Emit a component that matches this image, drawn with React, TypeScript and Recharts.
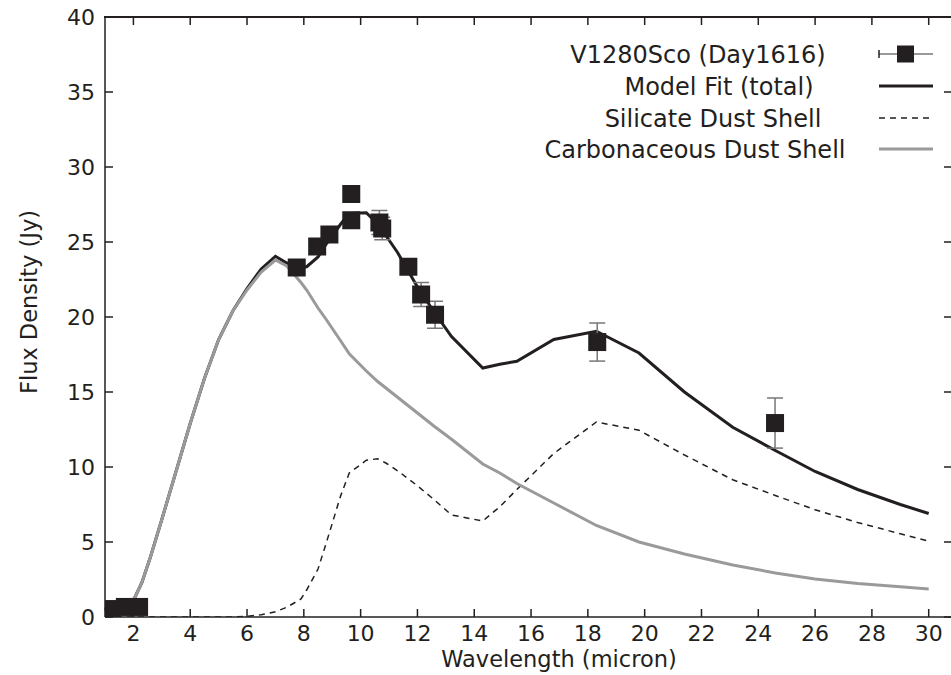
import { ComposedChart, Line, Scatter, ErrorBar, XAxis, YAxis } from 'recharts';

const INK = '#231f20';
const GREY = '#9a9a9a';
const BAR_GREY = '#777777';
const FONT = '"DejaVu Sans", "Liberation Sans", Arial, sans-serif';

// model grid, wavelength in micron
const modelWave = [1, 1.3, 1.6, 2, 2.3, 2.6, 3, 3.5, 4, 4.5, 5, 5.5, 6, 6.5, 7, 7.4, 7.9, 8.1, 8.5, 8.8, 9.3, 9.6, 10.2, 10.6, 10.9, 11.3, 12, 12.6, 13.2, 14.3, 14.9, 15.5, 16.8, 18.3, 19.8, 21.4, 23.1, 24.6, 26, 27.5, 29, 30];
const totalFit = [0, 0.1, 0.35, 1.1, 2.3, 4.0, 6.5, 9.7, 12.9, 15.9, 18.5, 20.4, 21.9, 23.2, 24.05, 23.6, 23.3, 23.35, 24.0, 24.9, 26.2, 26.9, 26.95, 26.2, 25.4, 24.3, 22.0, 20.3, 18.7, 16.6, 16.85, 17.05, 18.5, 19.05, 17.6, 15.0, 12.65, 11.1, 9.7, 8.5, 7.5, 6.9];
const silicateShell = [0, 0, 0, 0, 0, 0, 0, 0, 0, 0, 0, 0, 0.05, 0.15, 0.35, 0.65, 1.2, 1.8, 3.2, 5.0, 8.1, 9.6, 10.45, 10.55, 10.25, 9.75, 8.75, 7.8, 6.8, 6.4, 7.35, 8.5, 10.9, 13.0, 12.45, 10.8, 9.15, 8.1, 7.15, 6.3, 5.55, 5.05];
const carbonShell = [0, 0.1, 0.35, 1.1, 2.3, 4.0, 6.5, 9.7, 12.9, 15.9, 18.5, 20.4, 21.8, 23.0, 23.8, 23.4, 22.3, 21.8, 20.6, 19.8, 18.4, 17.55, 16.4, 15.7, 15.25, 14.65, 13.6, 12.7, 11.85, 10.2, 9.6, 8.9, 7.6, 6.1, 5.0, 4.2, 3.47, 2.94, 2.54, 2.24, 2.02, 1.87];

// V1280 Sco photometry, day 1616
const obsWave = [1.25, 1.7, 2.2, 7.75, 8.47, 8.9, 9.67, 9.67, 10.66, 10.76, 11.68, 12.13, 12.62, 18.33, 24.59];
const obsFlux = [0.53, 0.67, 0.67, 23.3, 24.7, 25.5, 28.2, 26.45, 26.3, 25.9, 23.35, 21.5, 20.15, 18.33, 12.93];
const obsErr = [0.05, 0.05, 0.05, 0.3, 0.4, 0.4, 0.3, 0.4, 0.8, 0.75, 0.3, 0.8, 0.9, 1.27, 1.67];

const xTicks = [2, 4, 6, 8, 10, 12, 14, 16, 18, 20, 22, 24, 26, 28, 30];
const yTicks = [0, 5, 10, 15, 20, 25, 30, 35, 40];

const seriesNames = ['V1280Sco (Day1616)', 'Model Fit (total)', 'Silicate Dust Shell', 'Carbonaceous Dust Shell'];

const modelData = modelWave.map((w, i) => ({
  wave: w,
  total: totalFit[i],
  silicate: silicateShell[i],
  carbon: carbonShell[i],
}));

const obsData = obsWave.map((w, i) => ({ wave: w, flux: obsFlux[i], err: obsErr[i] }));

const X_DOMAIN: [number, number] = [1, 30.82];
// plot box in page pixels (chart sits at 0,0)
const PLOT_LEFT = 105;
const PLOT_RIGHT = 952;
const PLOT_TOP = 17;
const axisLine = { stroke: INK, strokeWidth: 1.5 };

const topTickX = (v: number) =>
  PLOT_LEFT + ((v - X_DOMAIN[0]) / (X_DOMAIN[1] - X_DOMAIN[0])) * (PLOT_RIGHT - PLOT_LEFT);

function BottomTick({ x, y, payload }: any) {
  return (
    <g>
      <line x1={x} x2={x} y1={y} y2={y - 8} stroke={INK} strokeWidth={1.5} />
      <text x={x} y={y + 24} textAnchor="middle" fontSize={22} fontFamily={FONT} fill={INK}>
        {payload.value}
      </text>
    </g>
  );
}

function LeftTick({ x, y, payload }: any) {
  return (
    <g>
      <line x1={x} x2={x + 8} y1={y} y2={y} stroke={INK} strokeWidth={1.5} />
      <text x={x - 10} y={y + 8} textAnchor="end" fontSize={22} fontFamily={FONT} fill={INK}>
        {payload.value}
      </text>
    </g>
  );
}

function RightTick({ x, y }: any) {
  return <line x1={x} x2={x - 8} y1={y} y2={y} stroke={INK} strokeWidth={1.5} />;
}

function SquareMark({ cx, cy }: any) {
  return <rect x={cx - 9} y={cy - 9} width={18} height={18} fill={INK} />;
}

function XTitle() {
  return (
    <text x={559} y={667} textAnchor="middle" fontSize={22.5} fontFamily={FONT} fill={INK}>
      Wavelength (micron)
    </text>
  );
}

function YTitle() {
  return (
    <text
      x={37}
      y={302}
      transform="rotate(-90 37 302)"
      textAnchor="middle"
      fontSize={22.5}
      fontFamily={FONT}
      fill={INK}
    >
      Flux Density (Jy)
    </text>
  );
}

// legend plus the top frame edge with its inward ticks
function Overlay() {
  const rows = [54, 86, 118, 149];
  const centers = [698, 719, 713, 695];
  const x1 = 879;
  const x2 = 933;
  return (
    <>
      <div
        style={{
          position: 'absolute',
          left: PLOT_LEFT - 1,
          top: PLOT_TOP - 1,
          width: PLOT_RIGHT - PLOT_LEFT,
          height: 0,
          borderTop: `2px solid ${INK}`,
          zIndex: 5,
        }}
      />
      <svg
        width={951}
        height={180}
        style={{ position: 'absolute', left: 0, top: 0, pointerEvents: 'none', zIndex: 6 }}
      >
        {xTicks.map((t) => (
          <line
            key={t}
            x1={topTickX(t)}
            x2={topTickX(t)}
            y1={PLOT_TOP}
            y2={PLOT_TOP + 8}
            stroke={INK}
            strokeWidth={1.5}
          />
        ))}
        {seriesNames.map((name, i) => (
          <text
            key={name}
            x={centers[i]}
            y={rows[i] + 8.5}
            textAnchor="middle"
            fontSize={24}
            fontFamily={FONT}
            fill={INK}
          >
            {name}
          </text>
        ))}
        <line x1={x1} x2={x2} y1={rows[0]} y2={rows[0]} stroke={BAR_GREY} strokeWidth={1.5} />
        <line x1={x1} x2={x1} y1={rows[0] - 4} y2={rows[0] + 4} stroke={INK} strokeWidth={1.5} />
        <rect x={897} y={rows[0] - 8.5} width={17} height={17} fill={INK} />
        <line x1={x1} x2={x2} y1={rows[1]} y2={rows[1]} stroke={INK} strokeWidth={3} />
        <line x1={x1} x2={x2} y1={rows[2]} y2={rows[2]} stroke={INK} strokeWidth={1.5} strokeDasharray="6 5" />
        <line x1={x1} x2={x2} y1={rows[3]} y2={rows[3]} stroke={GREY} strokeWidth={3} />
      </svg>
    </>
  );
}

export default function App() {
  return (
    <div style={{ position: 'absolute', left: 0, top: 0, width: 951, height: 675, background: '#fff', overflow: 'hidden' }}>
      <ComposedChart
        width={953}
        height={675}
        data={modelData}
        margin={{ top: PLOT_TOP, right: 0, bottom: 0, left: 0 }}
      >
        <XAxis
          xAxisId="bottom"
          dataKey="wave"
          type="number"
          domain={X_DOMAIN}
          ticks={xTicks}
          interval={0}
          allowDataOverflow
          height={58}
          tickSize={0}
          tickMargin={0}
          tickLine={false}
          axisLine={axisLine}
          tick={BottomTick}
          label={<XTitle />}
        />
        <YAxis
          yAxisId="left"
          type="number"
          domain={[0, 40]}
          ticks={yTicks}
          interval={0}
          allowDataOverflow
          width={105}
          tickSize={0}
          tickMargin={0}
          tickLine={false}
          axisLine={axisLine}
          tick={LeftTick}
          label={<YTitle />}
        />
        <YAxis
          yAxisId="right"
          orientation="right"
          type="number"
          domain={[0, 40]}
          ticks={yTicks}
          interval={0}
          allowDataOverflow
          width={1}
          tickSize={0}
          tickMargin={0}
          tickLine={false}
          axisLine={axisLine}
          tick={RightTick}
        />
        {/* invisible copy so the mirrored right axis gets drawn */}
        <Line
          xAxisId="bottom"
          yAxisId="right"
          dataKey="total"
          stroke="none"
          dot={false}
          activeDot={false}
          legendType="none"
          isAnimationActive={false}
        />
        <Line
          xAxisId="bottom"
          yAxisId="left"
          name={seriesNames[1]}
          dataKey="total"
          type="linear"
          stroke={INK}
          strokeWidth={3}
          dot={false}
          isAnimationActive={false}
        />
        <Scatter
          xAxisId="bottom"
          yAxisId="left"
          name={seriesNames[0]}
          data={obsData}
          dataKey="flux"
          shape={SquareMark}
          isAnimationActive={false}
        >
          <ErrorBar dataKey="err" direction="y" width={8} stroke={BAR_GREY} strokeWidth={1.5} />
        </Scatter>
        <Line
          xAxisId="bottom"
          yAxisId="left"
          name={seriesNames[2]}
          dataKey="silicate"
          type="linear"
          stroke={INK}
          strokeWidth={1.5}
          strokeDasharray="6 5"
          dot={false}
          isAnimationActive={false}
        />
        <Line
          xAxisId="bottom"
          yAxisId="left"
          name={seriesNames[3]}
          dataKey="carbon"
          type="linear"
          stroke={GREY}
          strokeWidth={3}
          dot={false}
          isAnimationActive={false}
        />
      </ComposedChart>
      <Overlay />
    </div>
  );
}
